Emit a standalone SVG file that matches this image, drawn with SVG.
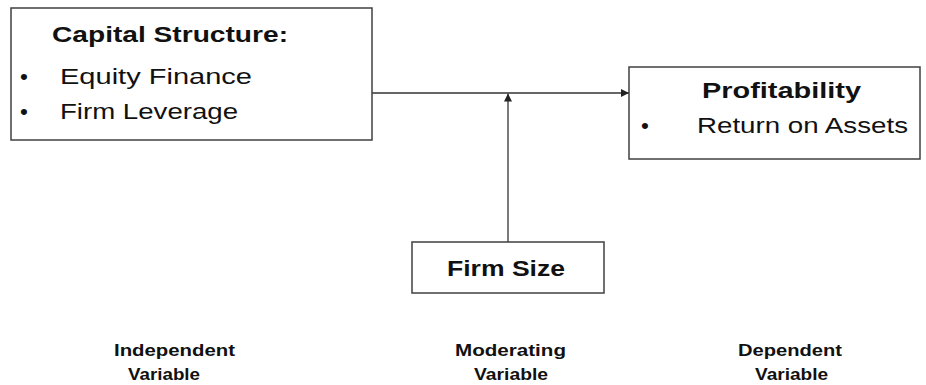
<svg xmlns="http://www.w3.org/2000/svg" width="926" height="385" viewBox="0 0 926 385">
<style>
.box{fill:#fff;stroke:#404040;stroke-width:1.5}
.t{font-family:"Liberation Sans",Arial,sans-serif;fill:#111}
.h{font-size:22.5px;font-weight:bold}
.r{font-size:22.5px}
.l{font-size:16px;font-weight:bold}
.c{stroke:#333;stroke-width:1.3;fill:none}
</style>
<defs>
<marker id="ah" markerWidth="8" markerHeight="8" refX="8" refY="4" orient="auto" markerUnits="userSpaceOnUse">
<path d="M0,0 L8,4 L0,8 Z" fill="#222"/>
</marker>
</defs>
<rect width="926" height="385" fill="#fff"/>
<g id="connectors">
<line class="c" x1="372" y1="93" x2="629" y2="93" marker-end="url(#ah)"/>
<line class="c" x1="508" y1="242" x2="508" y2="93.5" marker-end="url(#ah)"/>
</g>
<g id="capital">
<rect class="box" x="11" y="8" width="361" height="132"/>
<text class="t h" x="52" y="42" textLength="236" lengthAdjust="spacingAndGlyphs">Capital Structure:</text>
<text class="t r" x="20" y="84">•</text>
<text class="t r" x="60" y="84" textLength="192" lengthAdjust="spacingAndGlyphs">Equity Finance</text>
<text class="t r" x="20" y="119">•</text>
<text class="t r" x="60" y="119" textLength="178" lengthAdjust="spacingAndGlyphs">Firm Leverage</text>
</g>
<g id="profitability">
<rect class="box" x="629" y="67" width="291" height="92"/>
<text class="t h" x="702" y="98" textLength="159" lengthAdjust="spacingAndGlyphs">Profitability</text>
<text class="t r" x="641" y="133">•</text>
<text class="t r" x="697" y="133" textLength="211" lengthAdjust="spacingAndGlyphs">Return on Assets</text>
</g>
<g id="firmsize">
<rect class="box" x="412" y="242" width="192" height="51"/>
<text class="t h" x="447" y="276" textLength="118" lengthAdjust="spacingAndGlyphs">Firm Size</text>
</g>
<g id="labels">
<text class="t l" x="114" y="356" textLength="121" lengthAdjust="spacingAndGlyphs">Independent</text>
<text class="t l" x="128" y="380" textLength="72" lengthAdjust="spacingAndGlyphs">Variable</text>
<text class="t l" x="455" y="356" textLength="111" lengthAdjust="spacingAndGlyphs">Moderating</text>
<text class="t l" x="474" y="380" textLength="74" lengthAdjust="spacingAndGlyphs">Variable</text>
<text class="t l" x="738" y="356" textLength="104" lengthAdjust="spacingAndGlyphs">Dependent</text>
<text class="t l" x="755" y="380" textLength="73" lengthAdjust="spacingAndGlyphs">Variable</text>
</g>
</svg>
